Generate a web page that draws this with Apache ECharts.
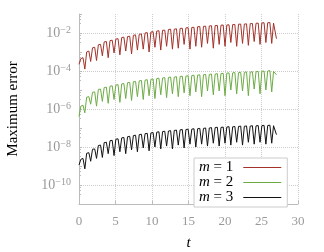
<!DOCTYPE html>
<html>
<head>
<meta charset="utf-8">
<script src="https://cdn.jsdelivr.net/npm/echarts@6/dist/echarts.min.js"></script>
<style>html,body{margin:0;padding:0;background:#fff;}#c{width:324px;height:252px;}</style>
</head>
<body>
<div id="c"></div>
<script>
// time samples (t)
const t = [0,0.25,0.55, 0.8,1.05,1.35, 1.6,1.85,2.15, 2.4,2.65,2.95, 3.2,3.45,3.75, 4.0,4.25,4.55, 4.8,5.05,5.35, 5.6,5.85,6.15, 6.4,6.65,6.95, 7.2,7.45,7.75, 8.0,8.25,8.55, 8.8,9.05,9.35, 9.6,9.85,10.15, 10.4,10.65,10.95, 11.2,11.45,11.75, 12.0,12.25,12.55, 12.8,13.05,13.35, 13.6,13.85,14.15, 14.4,14.65,14.95, 15.2,15.45,15.75, 16.0,16.25,16.55, 16.8,17.05,17.35, 17.6,17.85,18.15, 18.4,18.65,18.95, 19.2,19.45,19.75, 20.0,20.25,20.55, 20.8,21.05,21.35, 21.6,21.85,22.15, 22.4,22.65,22.95, 23.2,23.45,23.75, 24.0,24.25,24.55, 24.8,25.05,25.35, 25.6,25.85,26.15, 26.4,26.65,26.85, 27.05];
// log10 of maximum error
const log10ErrM1 = [-3.65,-3.35,-3.3, -3.9,-3.0,-2.95, -3.5,-2.78,-2.75, -3.45,-2.62,-2.6, -3.2,-2.47,-2.45, -3.3,-2.4,-2.38, -3.05,-2.32,-2.3, -3.15,-2.24,-2.22, -2.95,-2.19,-2.17, -3.1,-2.12,-2.1, -2.9,-2.07,-2.05, -2.85,-2.0,-1.98, -3.0,-1.95,-1.93, -2.75,-1.9,-1.88, -2.9,-1.86,-1.85, -2.7,-1.82,-1.8, -2.85,-1.8,-1.78, -2.8,-1.76,-1.75, -2.6,-1.73,-1.72, -2.85,-1.71,-1.7, -2.7,-1.67,-1.66, -2.75,-1.65,-1.64, -2.55,-1.63,-1.62, -2.8,-1.61,-1.6, -2.6,-1.59,-1.58, -2.7,-1.58,-1.57, -2.5,-1.56,-1.55, -2.7,-1.54,-1.53, -2.55,-1.53,-1.52, -2.65,-1.51,-1.5, -2.45,-1.49,-1.48, -2.6,-1.47,-1.46, -2.5,-1.46,-1.45, -2.55,-1.48,-1.5, -2.3];
const log10ErrM2 = [-6.4,-5.85,-5.8, -6.2,-5.38,-5.35, -5.75,-5.12,-5.1, -5.85,-4.97,-4.95, -5.6,-4.87,-4.85, -5.7,-4.8,-4.78, -5.5,-4.74,-4.72, -5.65,-4.68,-4.66, -5.45,-4.62,-4.6, -5.55,-4.57,-4.55, -5.35,-4.52,-4.5, -5.5,-4.48,-4.46, -5.3,-4.44,-4.42, -5.45,-4.4,-4.38, -5.25,-4.37,-4.35, -5.4,-4.34,-4.32, -5.2,-4.32,-4.3, -5.35,-4.29,-4.27, -5.15,-4.27,-4.25, -5.3,-4.24,-4.22, -5.1,-4.22,-4.2, -5.35,-4.2,-4.18, -5.05,-4.18,-4.16, -5.25,-4.16,-4.14, -5.05,-4.14,-4.12, -5.3,-4.12,-4.1, -5.0,-4.1,-4.08, -5.2,-4.09,-4.07, -5.05,-4.07,-4.05, -5.3,-4.06,-4.04, -4.95,-4.04,-4.02, -5.2,-4.02,-4.0, -5.0,-4.0,-3.98, -5.1,-4.02,-4.05, -4.2];
const log10ErrM3 = [-8.95,-8.65,-8.6, -9.15,-8.33,-8.3, -8.75,-8.12,-8.1, -8.6,-7.92,-7.9, -8.55,-7.77,-7.75, -8.35,-7.67,-7.65, -8.45,-7.59,-7.57, -8.25,-7.52,-7.5, -8.35,-7.46,-7.44, -8.15,-7.4,-7.38, -8.25,-7.35,-7.33, -8.05,-7.3,-7.28, -8.2,-7.26,-7.24, -8.0,-7.22,-7.2, -8.1,-7.19,-7.17, -7.95,-7.16,-7.14, -8.1,-7.13,-7.11, -7.9,-7.1,-7.08, -8.05,-7.08,-7.06, -7.85,-7.06,-7.04, -8.0,-7.04,-7.02, -7.85,-7.02,-7.0, -7.95,-7.0,-6.98, -7.8,-6.98,-6.96, -7.95,-6.97,-6.95, -7.8,-6.95,-6.93, -7.9,-6.94,-6.92, -7.75,-6.92,-6.9, -7.9,-6.91,-6.89, -7.75,-6.9,-6.88, -7.85,-6.89,-6.87, -7.75,-6.88,-6.86, -7.85,-6.87,-6.85, -7.8,-6.88,-6.9, -7.35];
const seriesNames = ['m = 1', 'm = 2', 'm = 3'];
const xTicks = [0, 5, 10, 15, 20, 25, 30];
const yLabelExponents = [-10, -8, -6, -4, -2];

const serif = 'Liberation Serif';
const colors = ['#a3322a', '#6dac45', '#111111'];
function pairs(logs) { return t.map((x, i) => [x, Math.pow(10, logs[i])]); }
const allLogs = [log10ErrM1, log10ErrM2, log10ErrM3];

const chart = echarts.init(document.getElementById('c'), null, {renderer: 'canvas'});
chart.setOption({
  animation: false,
  backgroundColor: '#fff',
  grid: {left: 79, right: 26, top: 14, bottom: 48, containLabel: false, outerBoundsMode: 'none'},
  xAxis: {
    type: 'value', min: xTicks[0], max: xTicks[xTicks.length - 1], interval: 5,
    axisLine: {lineStyle: {color: '#bbb'}},
    axisTick: {inside: true, length: 3, lineStyle: {color: '#bbb'}},
    axisLabel: {color: '#999', fontFamily: serif, fontSize: 13, margin: 11},
    splitLine: {show: true, showMinLine: false, lineStyle: {color: '#ccc', type: 'dotted'}},
    name: 't', nameLocation: 'middle', nameGap: 32,
    nameTextStyle: {fontFamily: serif, fontStyle: 'italic', fontSize: 15, color: '#000'}
  },
  yAxis: {
    type: 'log', logBase: 10, min: 1e-11, max: 0.0999, splitNumber: 10,
    axisLine: {show: true, lineStyle: {color: '#bbb'}},
    axisTick: {show: true, inside: true, length: 3, lineStyle: {color: '#bbb'}},
    minorTick: {show: true, splitNumber: 4, length: 2, lineStyle: {color: '#bbb'}},
    axisLabel: {
      color: '#999', fontFamily: serif, margin: 8, showMinLabel: true, showMaxLabel: true,
      formatter: function (v) {
        const e = Math.round(Math.log10(v));
        if (yLabelExponents.indexOf(e) < 0) return '';
        return '{b|10}{s|\u2212' + (-e) + '}';
      },
      rich: {
        b: {fontFamily: serif, fontSize: 14, color: '#999', lineHeight: 16},
        s: {fontFamily: serif, fontSize: 10, color: '#999', verticalAlign: 'top', lineHeight: 16, padding: [0, 0, 6, 0]}
      }
    },
    splitLine: {show: true, showMinLine: false, showMaxLine: false, lineStyle: {color: ['#ccc', 'rgba(0,0,0,0)'], type: 'dotted'}},
    name: 'Maximum error', nameLocation: 'middle', nameGap: 58,
    nameTextStyle: {fontFamily: serif, fontSize: 15, color: '#000'}
  },
  legend: {
    orient: 'vertical', left: 194, top: 158, align: 'right',
    icon: 'rect', itemWidth: 38, itemHeight: 1, itemGap: 0,
    padding: [2, 6, 2, 5],
    borderColor: '#ccc', borderWidth: 1, backgroundColor: '#fff',
    data: seriesNames,
    formatter: function (name) { return '{i|m}{n|' + name.slice(1) + '}'; },
    textStyle: {
      fontFamily: serif, fontSize: 15, color: '#000', lineHeight: 14,
      rich: {
        i: {fontFamily: serif, fontStyle: 'italic', fontSize: 15, color: '#000', lineHeight: 14},
        n: {fontFamily: serif, fontSize: 15, color: '#000', lineHeight: 14, padding: [0, 5, 0, 0]}
      }
    }
  },
  series: seriesNames.map((name, k) => ({
    name: name, type: 'line', data: pairs(allLogs[k]),
    symbol: 'none', showSymbol: false,
    lineStyle: {width: 1, color: colors[k]}, itemStyle: {color: colors[k]}
  }))
});
</script>
</body>
</html>
